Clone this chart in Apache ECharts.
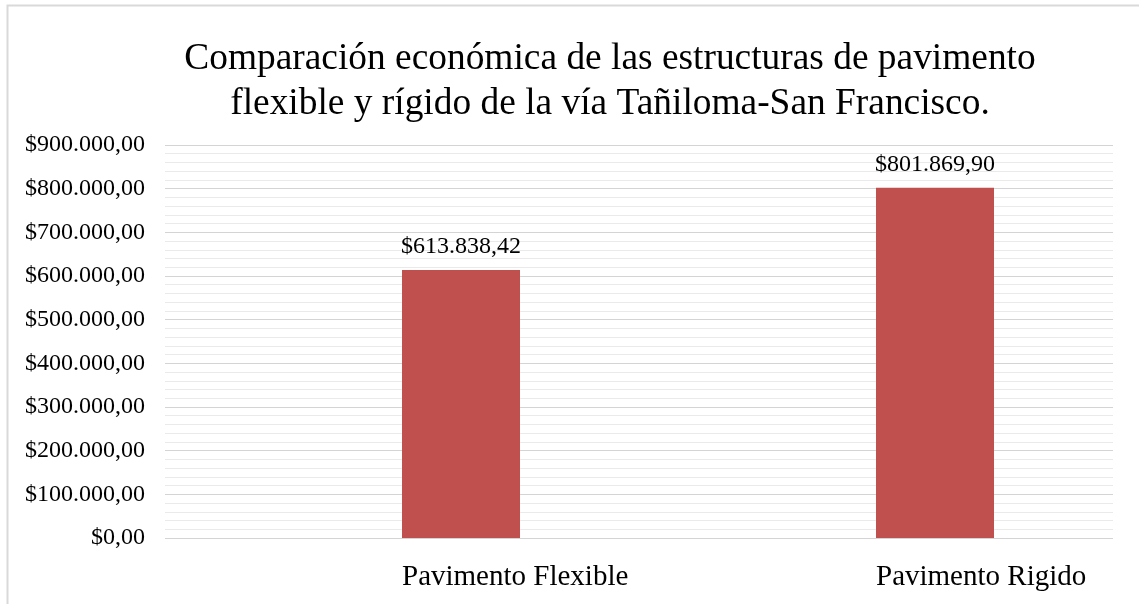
<!DOCTYPE html>
<html>
<head>
<meta charset="utf-8">
<script src="https://cdn.jsdelivr.net/npm/echarts@6/dist/echarts.min.js"></script>
<style>
  html, body { margin: 0; padding: 0; background: #fff; }
  #chart { width: 1139px; height: 604px; }
</style>
</head>
<body>
<div id="chart"></div>
<script>
// Costs of the two pavement structures (USD)
const categories = ['Pavimento Flexible', 'Pavimento Rigido'];
const costs = [613838.42, 801869.90];
// Empty companion series: keeps each bar in the right-hand slot of its category
const spacer = [null, null];
const titleLines = [
  'Comparación económica de las estructuras de pavimento',
  'flexible y rígido de la vía Tañiloma-San Francisco.'
];

// "$613.838,42" style: dot for thousands, comma for decimals
function money(v) {
  const fixed = Number(v).toFixed(2);
  const [intPart, dec] = fixed.split('.');
  const grouped = intPart.replace(/\B(?=(\d{3})+(?!\d))/g, '.');
  return '$' + grouped + ',' + dec;
}

const FONT = '"Liberation Serif", "DejaVu Serif", serif';
const chart = echarts.init(document.getElementById('chart'), null, { renderer: 'canvas' });

chart.setOption({
  animation: false,
  backgroundColor: '#ffffff',
  title: {
    text: titleLines.join('\n'),
    left: 605,
    top: 32,
    textAlign: 'center',
    textStyle: {
      fontFamily: FONT,
      fontSize: 37.4,
      fontWeight: 'normal',
      color: '#000',
      lineHeight: 45
    }
  },
  graphic: [{
    type: 'rect',
    shape: { x: 7.5, y: 5.5, width: 1200, height: 700 },
    style: { fill: 'none', stroke: '#d9d9d9', lineWidth: 2 },
    silent: true
  }],
  grid: { left: 165, right: 26, top: 145, bottom: 66 },
  xAxis: {
    type: 'category',
    data: categories,
    axisLine: { show: false },
    axisTick: { show: false },
    axisLabel: {
      align: 'left',
      margin: 25,
      fontFamily: FONT,
      fontSize: 29,
      color: '#000'
    }
  },
  yAxis: {
    type: 'value',
    min: 0,
    max: 900000,
    interval: 100000,
    axisLine: { show: false },
    axisTick: { show: false },
    axisLabel: {
      margin: 20,
      fontFamily: FONT,
      fontSize: 24,
      color: '#000',
      formatter: money
    },
    splitLine: { lineStyle: { color: '#d4d4d4', width: 1 } },
    minorTick: { show: false, splitNumber: 5 },
    minorSplitLine: { show: true, lineStyle: { color: '#eaeaea', width: 1 } }
  },
  series: [
    {
      type: 'bar',
      data: spacer,
      barWidth: 118,
      barGap: '0%'
    },
    {
      type: 'bar',
      data: costs,
      barWidth: 118,
      itemStyle: { color: '#c0504d' },
      label: {
        show: true,
        position: 'top',
        distance: 11,
        fontFamily: FONT,
        fontSize: 24,
        color: '#000',
        formatter: p => money(p.value)
      }
    }
  ]
});
</script>
</body>
</html>
